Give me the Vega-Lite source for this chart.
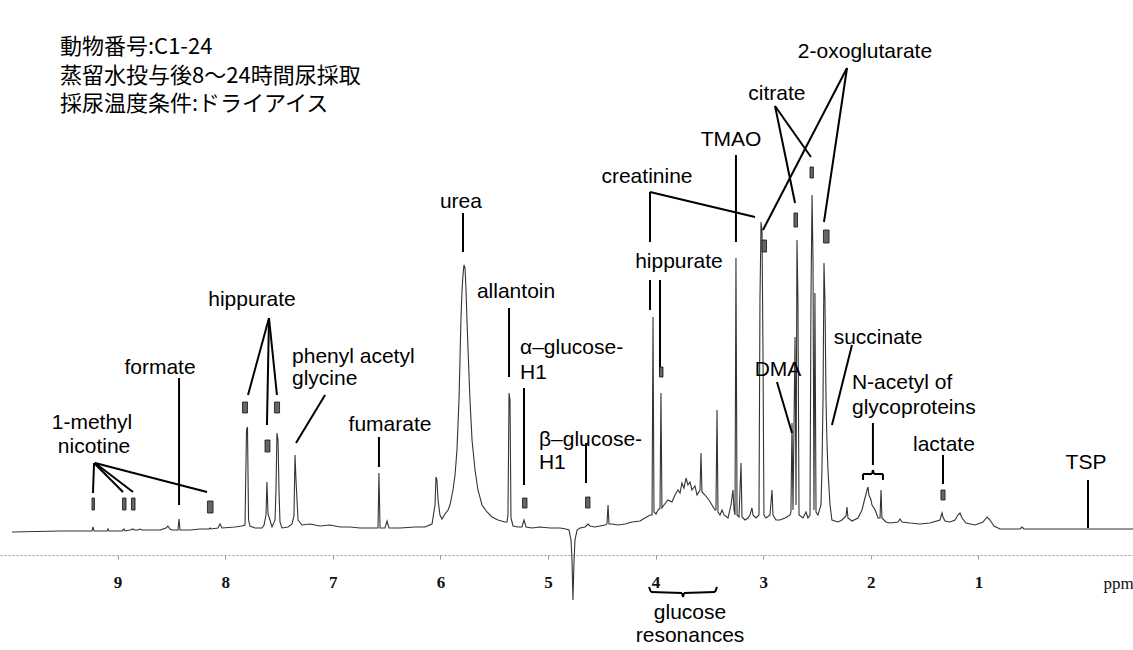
{
"$schema": "https://vega.github.io/schema/vega-lite/v6.json",
"width": 1133, "height": 650, "autosize": {"type": "none"}, "padding": 0,
"background": "white",
"config": {"view": {"stroke": null}},
"title": {"text": ["動物番号:C1-24", "蒸留水投与後8〜24時間尿採取", "採尿温度条件:ドライアイス"], "anchor": "start", "frame": "group", "orient": "top", "baseline": "top", "offset": -116, "dx": 60, "font": "Noto Sans CJK JP", "fontSize": 22, "fontWeight": "normal", "lineHeight": 28.5, "color": "#000"},
"datasets": {
"spec": [
{"ppm":9.981,"h":-1},{"ppm":9.535,"h":0},{"ppm":9.257,"h":0},{"ppm":9.238,"h":0},{"ppm":9.229,"h":4},{"ppm":9.219,"h":0},{"ppm":9.164,"h":0},{"ppm":9.099,"h":0},{"ppm":9.089,"h":2},{"ppm":9.080,"h":0},
{"ppm":8.959,"h":0},{"ppm":8.941,"h":2},{"ppm":8.931,"h":0},{"ppm":8.885,"h":1},{"ppm":8.857,"h":2},{"ppm":8.848,"h":1},{"ppm":8.810,"h":1},{"ppm":8.792,"h":2},{"ppm":8.773,"h":1},{"ppm":8.606,"h":1},
{"ppm":8.550,"h":3},{"ppm":8.532,"h":5},{"ppm":8.513,"h":2},{"ppm":8.494,"h":1},{"ppm":8.439,"h":1},{"ppm":8.429,"h":12},{"ppm":8.420,"h":1},{"ppm":8.327,"h":1},{"ppm":8.234,"h":2},{"ppm":8.151,"h":2},
{"ppm":8.141,"h":3},{"ppm":8.132,"h":2},{"ppm":8.067,"h":3},{"ppm":8.048,"h":7},{"ppm":8.030,"h":3},{"ppm":7.909,"h":4},{"ppm":7.844,"h":5},{"ppm":7.816,"h":6},{"ppm":7.802,"h":101},{"ppm":7.793,"h":104},
{"ppm":7.783,"h":11},{"ppm":7.770,"h":5},{"ppm":7.723,"h":3},{"ppm":7.658,"h":3},{"ppm":7.639,"h":6},{"ppm":7.621,"h":16},{"ppm":7.612,"h":49},{"ppm":7.602,"h":17},{"ppm":7.584,"h":11},{"ppm":7.565,"h":4},
{"ppm":7.537,"h":11},{"ppm":7.528,"h":41},{"ppm":7.519,"h":98},{"ppm":7.509,"h":91},{"ppm":7.500,"h":41},{"ppm":7.491,"h":9},{"ppm":7.472,"h":3},{"ppm":7.416,"h":4},{"ppm":7.379,"h":7},{"ppm":7.361,"h":15},
{"ppm":7.351,"h":76},{"ppm":7.342,"h":51},{"ppm":7.323,"h":11},{"ppm":7.286,"h":6},{"ppm":7.212,"h":7},{"ppm":7.119,"h":5},{"ppm":7.026,"h":6},{"ppm":6.933,"h":4},{"ppm":6.840,"h":4},{"ppm":6.747,"h":3},
{"ppm":6.654,"h":3},{"ppm":6.580,"h":3},{"ppm":6.571,"h":58},{"ppm":6.561,"h":3},{"ppm":6.515,"h":3},{"ppm":6.496,"h":10},{"ppm":6.478,"h":3},{"ppm":6.375,"h":3},{"ppm":6.236,"h":4},{"ppm":6.143,"h":4},
{"ppm":6.078,"h":7},{"ppm":6.050,"h":26},{"ppm":6.041,"h":54},{"ppm":6.032,"h":51},{"ppm":6.022,"h":31},{"ppm":6.004,"h":16},{"ppm":5.985,"h":12},{"ppm":5.957,"h":17},{"ppm":5.929,"h":21},{"ppm":5.911,"h":26},
{"ppm":5.883,"h":41},{"ppm":5.864,"h":56},{"ppm":5.846,"h":81},{"ppm":5.827,"h":131},{"ppm":5.818,"h":171},{"ppm":5.809,"h":211},{"ppm":5.799,"h":241},{"ppm":5.790,"h":256},{"ppm":5.781,"h":266},{"ppm":5.771,"h":263},
{"ppm":5.762,"h":241},{"ppm":5.753,"h":211},{"ppm":5.743,"h":181},{"ppm":5.725,"h":131},{"ppm":5.706,"h":91},{"ppm":5.678,"h":61},{"ppm":5.651,"h":41},{"ppm":5.613,"h":26},{"ppm":5.567,"h":19},{"ppm":5.520,"h":14},
{"ppm":5.465,"h":11},{"ppm":5.400,"h":9},{"ppm":5.381,"h":9},{"ppm":5.372,"h":16},{"ppm":5.362,"h":138},{"ppm":5.353,"h":131},{"ppm":5.344,"h":13},{"ppm":5.325,"h":5},{"ppm":5.279,"h":4},{"ppm":5.242,"h":4},
{"ppm":5.223,"h":11},{"ppm":5.204,"h":4},{"ppm":5.149,"h":3},{"ppm":5.074,"h":4},{"ppm":4.981,"h":3},{"ppm":4.888,"h":3},{"ppm":4.833,"h":2},{"ppm":4.805,"h":1},{"ppm":4.786,"h":-9},{"ppm":4.777,"h":-29},
{"ppm":4.768,"h":-69},{"ppm":4.758,"h":-29},{"ppm":4.749,"h":-9},{"ppm":4.730,"h":1},{"ppm":4.703,"h":3},{"ppm":4.656,"h":4},{"ppm":4.628,"h":7},{"ppm":4.610,"h":5},{"ppm":4.563,"h":4},{"ppm":4.517,"h":5},
{"ppm":4.470,"h":6},{"ppm":4.452,"h":7},{"ppm":4.442,"h":26},{"ppm":4.433,"h":7},{"ppm":4.405,"h":7},{"ppm":4.349,"h":6},{"ppm":4.284,"h":7},{"ppm":4.219,"h":9},{"ppm":4.145,"h":10},{"ppm":4.099,"h":13},
{"ppm":4.052,"h":16},{"ppm":4.033,"h":16},{"ppm":4.024,"h":214},{"ppm":4.015,"h":19},{"ppm":3.996,"h":17},{"ppm":3.978,"h":21},{"ppm":3.959,"h":23},{"ppm":3.950,"h":138},{"ppm":3.941,"h":23},{"ppm":3.922,"h":26},
{"ppm":3.885,"h":31},{"ppm":3.848,"h":29},{"ppm":3.820,"h":36},{"ppm":3.792,"h":41},{"ppm":3.773,"h":38},{"ppm":3.755,"h":48},{"ppm":3.736,"h":43},{"ppm":3.717,"h":53},{"ppm":3.699,"h":46},{"ppm":3.680,"h":49},
{"ppm":3.662,"h":41},{"ppm":3.634,"h":45},{"ppm":3.615,"h":36},{"ppm":3.587,"h":41},{"ppm":3.578,"h":78},{"ppm":3.569,"h":39},{"ppm":3.541,"h":36},{"ppm":3.504,"h":31},{"ppm":3.476,"h":26},{"ppm":3.448,"h":21},
{"ppm":3.439,"h":21},{"ppm":3.429,"h":121},{"ppm":3.420,"h":19},{"ppm":3.401,"h":16},{"ppm":3.383,"h":21},{"ppm":3.364,"h":16},{"ppm":3.327,"h":13},{"ppm":3.299,"h":26},{"ppm":3.281,"h":41},{"ppm":3.271,"h":21},
{"ppm":3.262,"h":16},{"ppm":3.253,"h":273},{"ppm":3.243,"h":16},{"ppm":3.225,"h":14},{"ppm":3.206,"h":68},{"ppm":3.197,"h":14},{"ppm":3.169,"h":11},{"ppm":3.141,"h":13},{"ppm":3.123,"h":16},{"ppm":3.104,"h":23},
{"ppm":3.095,"h":16},{"ppm":3.067,"h":13},{"ppm":3.039,"h":16},{"ppm":3.030,"h":231},{"ppm":3.020,"h":309},{"ppm":3.011,"h":301},{"ppm":3.002,"h":181},{"ppm":2.993,"h":16},{"ppm":2.974,"h":13},{"ppm":2.937,"h":16},
{"ppm":2.918,"h":41},{"ppm":2.909,"h":16},{"ppm":2.881,"h":11},{"ppm":2.844,"h":11},{"ppm":2.797,"h":13},{"ppm":2.751,"h":16},{"ppm":2.742,"h":19},{"ppm":2.732,"h":108},{"ppm":2.723,"h":21},{"ppm":2.704,"h":194},
{"ppm":2.695,"h":26},{"ppm":2.686,"h":291},{"ppm":2.677,"h":231},{"ppm":2.667,"h":16},{"ppm":2.630,"h":13},{"ppm":2.602,"h":19},{"ppm":2.584,"h":13},{"ppm":2.565,"h":16},{"ppm":2.556,"h":231},{"ppm":2.546,"h":336},
{"ppm":2.537,"h":271},{"ppm":2.528,"h":21},{"ppm":2.519,"h":238},{"ppm":2.509,"h":19},{"ppm":2.491,"h":16},{"ppm":2.463,"h":26},{"ppm":2.454,"h":61},{"ppm":2.444,"h":131},{"ppm":2.435,"h":268},{"ppm":2.426,"h":231},
{"ppm":2.416,"h":131},{"ppm":2.407,"h":88},{"ppm":2.398,"h":61},{"ppm":2.379,"h":26},{"ppm":2.361,"h":11},{"ppm":2.305,"h":9},{"ppm":2.268,"h":11},{"ppm":2.230,"h":15},{"ppm":2.221,"h":24},{"ppm":2.212,"h":13},
{"ppm":2.175,"h":10},{"ppm":2.119,"h":13},{"ppm":2.082,"h":21},{"ppm":2.054,"h":33},{"ppm":2.035,"h":41},{"ppm":2.026,"h":44},{"ppm":2.017,"h":36},{"ppm":1.998,"h":31},{"ppm":1.989,"h":26},{"ppm":1.970,"h":23},
{"ppm":1.952,"h":19},{"ppm":1.933,"h":13},{"ppm":1.914,"h":13},{"ppm":1.905,"h":41},{"ppm":1.896,"h":13},{"ppm":1.859,"h":9},{"ppm":1.822,"h":8},{"ppm":1.747,"h":9},{"ppm":1.729,"h":12},{"ppm":1.710,"h":9},
{"ppm":1.636,"h":8},{"ppm":1.543,"h":7},{"ppm":1.450,"h":8},{"ppm":1.357,"h":11},{"ppm":1.338,"h":18},{"ppm":1.329,"h":14},{"ppm":1.310,"h":10},{"ppm":1.264,"h":9},{"ppm":1.217,"h":11},{"ppm":1.190,"h":16},
{"ppm":1.171,"h":18},{"ppm":1.152,"h":13},{"ppm":1.115,"h":8},{"ppm":1.032,"h":6},{"ppm":0.957,"h":9},{"ppm":0.920,"h":14},{"ppm":0.892,"h":11},{"ppm":0.855,"h":5},{"ppm":0.799,"h":2},{"ppm":0.706,"h":2},
{"ppm":0.613,"h":2},{"ppm":0.595,"h":4},{"ppm":0.576,"h":2},{"ppm":0.428,"h":2},{"ppm":-0.437,"h":2}
],
"seg": [
{"ppm":9.219,"h":68,"ppm2":9.229,"h2":38},{"ppm":9.219,"h":68,"ppm2":8.950,"h2":39},{"ppm":9.210,"h":68,"ppm2":8.857,"h2":39},{"ppm":9.210,"h":68,"ppm2":8.169,"h2":39},
{"ppm":8.429,"h":153,"ppm2":8.429,"h2":26},
{"ppm":7.593,"h":213,"ppm2":7.788,"h2":136},{"ppm":7.593,"h":213,"ppm2":7.612,"h2":106},{"ppm":7.593,"h":213,"ppm2":7.519,"h2":136},
{"ppm":7.072,"h":136,"ppm2":7.342,"h2":88},
{"ppm":6.571,"h":94,"ppm2":6.571,"h2":64},
{"ppm":5.790,"h":318,"ppm2":5.790,"h2":279},
{"ppm":5.362,"h":223,"ppm2":5.362,"h2":154},
{"ppm":5.223,"h":143,"ppm2":5.223,"h2":46},
{"ppm":4.647,"h":88,"ppm2":4.647,"h2":48},
{"ppm":4.052,"h":251,"ppm2":4.052,"h2":221},{"ppm":3.959,"h":251,"ppm2":3.959,"h2":158},
{"ppm":4.052,"h":289,"ppm2":4.052,"h2":339},{"ppm":4.052,"h":339,"ppm2":3.076,"h2":314},
{"ppm":3.253,"h":376,"ppm2":3.253,"h2":289},
{"ppm":2.890,"h":425,"ppm2":2.704,"h2":328},{"ppm":2.890,"h":425,"ppm2":2.556,"h2":374},
{"ppm":2.221,"h":463,"ppm2":3.002,"h2":301},{"ppm":2.221,"h":463,"ppm2":2.435,"h2":309},
{"ppm":2.872,"h":149,"ppm2":2.732,"h2":98},
{"ppm":2.175,"h":186,"ppm2":2.361,"h2":106},
{"ppm":1.980,"h":108,"ppm2":1.980,"h2":66},
{"ppm":2.072,"h":51,"ppm2":2.072,"h2":57},{"ppm":2.072,"h":57,"ppm2":1.989,"h2":57},{"ppm":1.989,"h":57,"ppm2":1.980,"h2":61},{"ppm":1.980,"h":61,"ppm2":1.970,"h2":57},{"ppm":1.970,"h":57,"ppm2":1.887,"h2":57},{"ppm":1.887,"h":57,"ppm2":1.887,"h2":51},
{"ppm":1.329,"h":76,"ppm2":1.329,"h2":47},
{"ppm":-0.019,"h":51,"ppm2":-0.019,"h2":3},
{"ppm":4.061,"h":-56,"ppm2":4.043,"h2":-61},{"ppm":4.043,"h":-61,"ppm2":3.755,"h2":-62},{"ppm":3.755,"h":-62,"ppm2":3.745,"h2":-66},{"ppm":3.745,"h":-66,"ppm2":3.736,"h2":-62},{"ppm":3.736,"h":-62,"ppm2":3.448,"h2":-61},{"ppm":3.448,"h":-61,"ppm2":3.429,"h2":-56}
],
"box": [
{"ppm":9.238,"ppm2":9.215,"h":33,"h2":21},{"ppm":8.954,"ppm2":8.922,"h":33,"h2":21},{"ppm":8.871,"ppm2":8.838,"h":33,"h2":21},{"ppm":8.165,"ppm2":8.113,"h":30,"h2":18},
{"ppm":7.839,"ppm2":7.793,"h":129,"h2":118},{"ppm":7.630,"ppm2":7.584,"h":91,"h2":79},{"ppm":7.542,"ppm2":7.495,"h":129,"h2":118},
{"ppm":5.237,"ppm2":5.195,"h":33,"h2":23},{"ppm":4.651,"ppm2":4.610,"h":34,"h2":23},{"ppm":3.964,"ppm2":3.931,"h":164,"h2":154},
{"ppm":3.011,"ppm2":2.969,"h":291,"h2":279},{"ppm":2.714,"ppm2":2.681,"h":318,"h2":304},{"ppm":2.565,"ppm2":2.533,"h":364,"h2":353},{"ppm":2.440,"ppm2":2.388,"h":301,"h2":288},
{"ppm":1.348,"ppm2":1.310,"h":41,"h2":31}
],
"lab": [
{"ppm":9.238,"h":108,"label":"1-methyl","a":"c"},{"ppm":9.219,"h":84,"label":"nicotine","a":"c"},
{"ppm":8.606,"h":163,"label":"formate","a":"c"},{"ppm":7.751,"h":231,"label":"hippurate","a":"c"},
{"ppm":6.468,"h":106,"label":"fumarate","a":"c"},{"ppm":5.809,"h":329,"label":"urea","a":"c"},
{"ppm":5.297,"h":239,"label":"allantoin","a":"c"},{"ppm":4.080,"h":354,"label":"creatinine","a":"c"},
{"ppm":3.783,"h":269,"label":"hippurate","a":"c"},{"ppm":3.299,"h":391,"label":"TMAO","a":"c"},
{"ppm":2.872,"h":437,"label":"citrate","a":"c"},{"ppm":2.054,"h":479,"label":"2-oxoglutarate","a":"c"},
{"ppm":2.862,"h":161,"label":"DMA","a":"c"},{"ppm":1.933,"h":193,"label":"succinate","a":"c"},
{"ppm":1.320,"h":86,"label":"lactate","a":"c"},{"ppm":0.0,"h":68,"label":"TSP","a":"c"},
{"ppm":3.680,"h":-82,"label":"glucose","a":"c"},{"ppm":3.680,"h":-105,"label":"resonances","a":"c"},
{"ppm":7.379,"h":174,"label":"phenyl acetyl","a":"l"},{"ppm":7.379,"h":152,"label":"glycine","a":"l"},
{"ppm":5.260,"h":183,"label":"α–glucose-","a":"l"},{"ppm":5.260,"h":158,"label":"H1","a":"l"},
{"ppm":5.084,"h":91,"label":"β–glucose-","a":"l"},{"ppm":5.084,"h":68,"label":"H1","a":"l"},
{"ppm":2.175,"h":148,"label":"N-acetyl of","a":"l"},{"ppm":2.175,"h":123,"label":"glycoproteins","a":"l"}
]
},
"layer": [
{"data": {"name": "spec"},
 "mark": {"type": "line", "color": "#333333", "strokeWidth": 1.1, "interpolate": "linear"},
 "encoding": {
  "x": {"field": "ppm", "type": "quantitative", "scale": {"domain": [10.093, -0.437], "nice": false, "zero": false},
   "axis": {"values": [9,8,7,6,5,4,3,2,1], "format": "d", "offset": -95, "grid": false,
    "domainColor": "#9a9a9a", "domainDash": [2, 2], "domainWidth": 1,
    "ticks": true, "tickColor": "#9a9a9a", "tickSize": 4, "tickWidth": 1,
    "labelFont": "Liberation Serif", "labelFontSize": 17, "labelFontWeight": "bold", "labelColor": "#111111", "labelPadding": 15, "labelFlush": false, "labelOverlap": false,
    "title": "ppm", "titleX": 1118, "titleY": 28, "titleFont": "Liberation Serif", "titleFontSize": 17, "titleFontWeight": "normal", "titleAlign": "center", "titleBaseline": "middle", "titleColor": "#111111"}},
  "y": {"field": "h", "type": "quantitative", "scale": {"domain": [-119, 531], "nice": false, "zero": false}, "axis": null}
 }},
{"data": {"name": "seg"},
 "mark": {"type": "rule", "color": "#000000", "strokeWidth": 2},
 "encoding": {
  "x": {"field": "ppm", "type": "quantitative"}, "x2": {"field": "ppm2"},
  "y": {"field": "h", "type": "quantitative"}, "y2": {"field": "h2"}
 }},
{"data": {"name": "box"},
 "mark": {"type": "rect", "fill": "#666666", "stroke": "#111111", "strokeWidth": 0.8},
 "encoding": {
  "x": {"field": "ppm", "type": "quantitative"}, "x2": {"field": "ppm2"},
  "y": {"field": "h", "type": "quantitative"}, "y2": {"field": "h2"}
 }},
{"data": {"name": "lab"},
 "transform": [{"filter": "datum.a == 'c'"}],
 "mark": {"type": "text", "font": "Liberation Sans", "fontSize": 21, "align": "center", "baseline": "middle", "color": "#000000"},
 "encoding": {
  "x": {"field": "ppm", "type": "quantitative"},
  "y": {"field": "h", "type": "quantitative"},
  "text": {"field": "label"}
 }},
{"data": {"name": "lab"},
 "transform": [{"filter": "datum.a == 'l'"}],
 "mark": {"type": "text", "font": "Liberation Sans", "fontSize": 21, "align": "left", "baseline": "middle", "color": "#000000"},
 "encoding": {
  "x": {"field": "ppm", "type": "quantitative"},
  "y": {"field": "h", "type": "quantitative"},
  "text": {"field": "label"}
 }}
]
}
